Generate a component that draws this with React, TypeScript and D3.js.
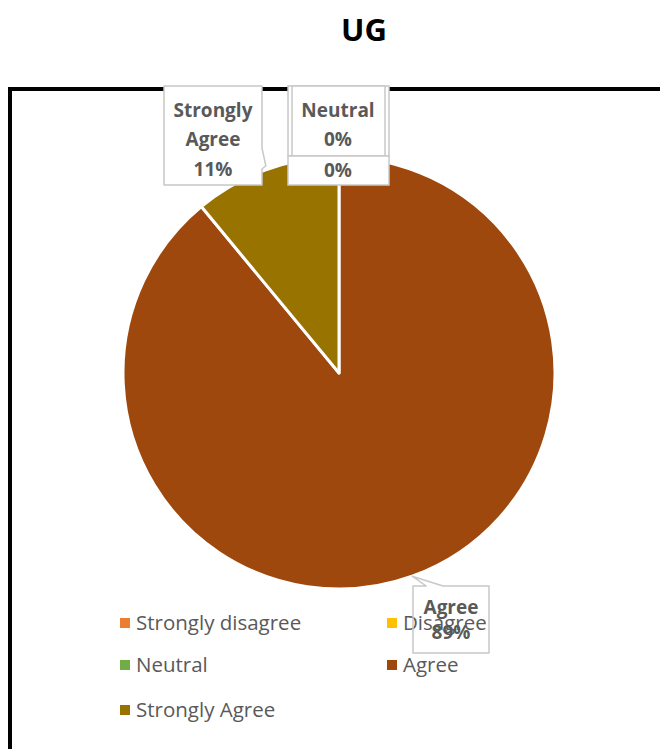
import React from "react";
import * as d3 from "d3";

const categories = ["Strongly disagree", "Disagree", "Neutral", "Agree", "Strongly Agree"];
const values = [0, 0, 0, 89, 11];
const colors = ["#ED7D31", "#FFC000", "#70AD47", "#9E480E", "#997300"];
const title = "UG";

const W = 660, H = 749;
const cx = 339, cy = 373, R = 216;
const FONT = "'Open Sans', 'Liberation Sans', Arial, sans-serif";
const TXT = "#595959";

export default function App() {
  const pie = d3.pie<number>().sort(null).value((d) => d).startAngle(0).endAngle(Math.PI * 2);
  const arcs = pie(values);
  const arcGen = d3.arc<d3.PieArcDatum<number>>().innerRadius(0).outerRadius(R);
  const total = d3.sum(values);
  const pct = (v: number) => `${Math.round((v / total) * 100)}%`;
  const edge = (a: d3.PieArcDatum<number>) => {
    const m = (a.startAngle + a.endAngle) / 2;
    return [cx + R * Math.sin(m), cy - R * Math.cos(m)];
  };

  const sa = arcs[4];
  const ag = arcs[3];
  const [sx, sy] = edge(sa);
  const [ax, ay] = edge(ag);

  const sb = { x0: 164, x1: 262, y0: 86, y1: 185 };
  const sPath = `M${sb.x0},${sb.y0} L${sb.x1},${sb.y0} L${sb.x1},148 L${sx},${sy - 4} L${sb.x1},${sb.y1 - 16} L${sb.x1},${sb.y1} L${sb.x0},${sb.y1} Z`;
  const ab = { x0: 413, x1: 489, y0: 586, y1: 653 };
  const aPath = `M${ab.x0},${ab.y0} L${ax + 14},${ab.y0} L${ax},${ay} L${ab.x0 + 30},${ab.y0} L${ab.x1},${ab.y0} L${ab.x1},${ab.y1} L${ab.x0},${ab.y1} Z`;

  const legendRows = [
    { i: 0, x: 120, y: 623 },
    { i: 1, x: 387, y: 623 },
    { i: 2, x: 120, y: 665 },
    { i: 3, x: 387, y: 665 },
    { i: 4, x: 120, y: 710 },
  ];

  const LF = 20.5;
  const BF = 19;

  return (
    <svg width={W} height={H} style={{ position: "absolute", left: 0, top: 0 }} fontFamily={FONT}>
      <rect x={0} y={0} width={W} height={H} fill="#fff" />
      <text x={364} y={41} textAnchor="middle" fontSize={31} fontWeight="bold" fill="#000">{title}</text>
      <rect x={10} y={89} width={W + 20} height={H} fill="none" stroke="#000" strokeWidth={4} />

      <g>
        {arcs.map((a, i) =>
          a.value > 0 ? (
            <path key={i} d={arcGen(a) || ""} transform={`translate(${cx},${cy})`} fill={colors[i]} stroke="#fff" strokeWidth={3} strokeLinejoin="round" />
          ) : null
        )}
      </g>

      <rect x={288} y={86} width={101} height={70} fill="#fff" stroke="#c8c8c8" strokeWidth={1.5} />
      <rect x={292} y={86} width={93} height={70} fill="#fff" stroke="#c8c8c8" strokeWidth={1.5} />
      <text x={338} y={117} textAnchor="middle" fontSize={BF} fontWeight="bold" fill={TXT}>{categories[2]}</text>
      <text x={338} y={146} textAnchor="middle" fontSize={BF} fontWeight="bold" fill={TXT}>{pct(values[2])}</text>
      <rect x={288} y={156} width={101} height={29} fill="#fff" stroke="#c8c8c8" strokeWidth={1.5} />
      <text x={338} y={177} textAnchor="middle" fontSize={BF} fontWeight="bold" fill={TXT}>{pct(values[1])}</text>

      <path d={sPath} fill="#fff" stroke="#c8c8c8" strokeWidth={1.5} strokeLinejoin="round" />
      <text textAnchor="middle" fontSize={BF} fontWeight="bold" fill={TXT}>
        <tspan x={213} y={117}>Strongly</tspan>
        <tspan x={213} y={146}>Agree</tspan>
        <tspan x={213} y={176}>{pct(values[4])}</tspan>
      </text>

      {legendRows.map((r) => (
        <g key={r.i}>
          <rect x={r.x} y={r.y - 5} width={10} height={10} fill={colors[r.i]} />
          <text x={r.x + 16} y={r.y + 7} fontSize={LF} fill={TXT}>{categories[r.i]}</text>
        </g>
      ))}

      <path d={aPath} fill="none" stroke="#c8c8c8" strokeWidth={1.5} strokeLinejoin="round" />
      <text textAnchor="middle" fontSize={BF} fontWeight="bold" fill={TXT}>
        <tspan x={451} y={614}>Agree</tspan>
        <tspan x={451} y={639}>{pct(values[3])}</tspan>
      </text>
    </svg>
  );
}
